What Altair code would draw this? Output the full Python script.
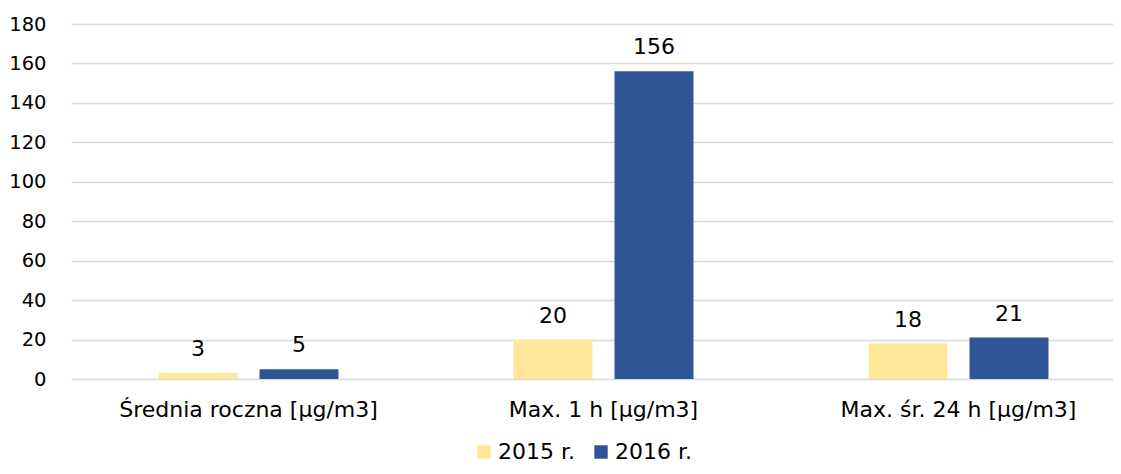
import altair as alt
import pandas as pd

categories = ["Średnia roczna [µg/m3]", "Max. 1 h [µg/m3]", "Max. śr. 24 h [µg/m3]"]
series = ["2015 r.", "2016 r."]
values_2015 = [3, 20, 18]
values_2016 = [5, 156, 21]
colors = ["#FFE699", "#2F5597"]
y_ticks = [0, 20, 40, 60, 80, 100, 120, 140, 160, 180]

rows = []
for c, v in zip(categories, values_2015):
    rows.append({"cat": c, "year": series[0], "val": v})
for c, v in zip(categories, values_2016):
    rows.append({"cat": c, "year": series[1], "val": v})
df = pd.DataFrame(rows)

FONT = "DejaVu Sans"
FS = 22

x_enc = alt.X("cat:N", sort=categories, title=None,
              scale=alt.Scale(range=[0, 1065], paddingInner=0.493, paddingOuter=0.2465),
              axis=alt.Axis(labelAngle=0, domain=False, ticks=False, labelPadding=20,
                            labelFontSize=FS, labelFont=FONT, labelColor="#000000",
                            labelLimit=0))
xoff = alt.XOffset("year:N", sort=series,
                   scale=alt.Scale(paddingInner=0.218, paddingOuter=0))
y_enc = alt.Y("val:Q", title=None,
              scale=alt.Scale(domain=[0, 180], nice=False),
              axis=alt.Axis(values=y_ticks, domain=False, ticks=False, labelPadding=25,
                            labelFontSize=19.5, labelFont=FONT, labelColor="#000000",
                            labelOverlap=False, labelBound=False, labelFlush=False,
                            gridColor="#D9D9D9", gridWidth=1.5))

bars = alt.Chart(df).mark_bar().encode(
    x=x_enc, xOffset=xoff, y=y_enc,
    color=alt.Color("year:N", sort=series,
                    scale=alt.Scale(domain=series, range=colors),
                    legend=alt.Legend(title=None, orient="none", direction="horizontal",
                                      legendX=402, legendY=417,
                                      symbolType="square", symbolSize=180,
                                      symbolStrokeWidth=0, labelFontSize=FS,
                                      labelFont=FONT, labelColor="#000000",
                                      columnPadding=15, labelOffset=3)),
)

labels = alt.Chart(df).mark_text(baseline="bottom", dy=-12, fontSize=FS, font=FONT,
                                 color="#000000").encode(
    x=x_enc, xOffset=xoff, y=y_enc, text="val:Q",
)

chart = (bars + labels).properties(
    width=1042, height=355,
    autosize=alt.AutoSizeParams(type="none"),
    padding={"left": 63, "top": 16, "right": 0, "bottom": 87},
).configure_view(stroke=None)

chart.save("out.html", embed_options={"renderer": "svg", "actions": False})
